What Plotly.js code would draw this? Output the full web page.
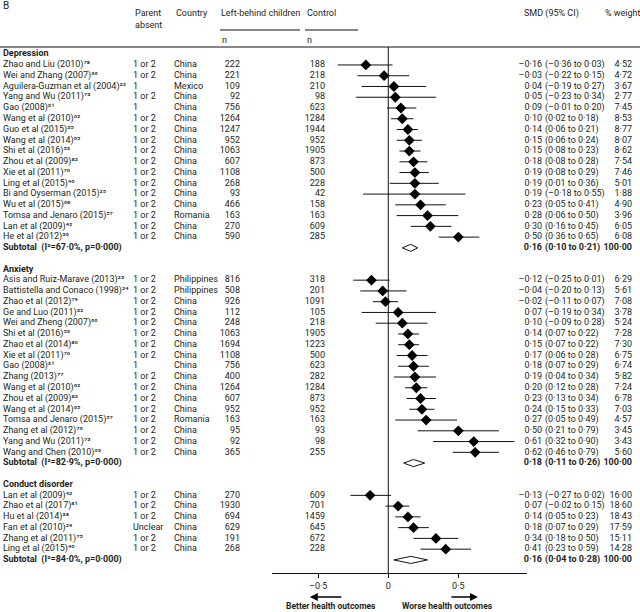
<!DOCTYPE html>
<html>
<head>
<meta charset="utf-8">
<script src="https://cdn.plot.ly/plotly-3.0.1.min.js"></script>
<style>
html,body{margin:0;padding:0;background:#fff;}
#chart{width:640px;height:612px;}
</style>
</head>
<body>
<div id="chart"></div>
<script>
// ---------------- DATA ----------------
const sections = ["Depression", "Anxiety", "Conduct disorder"];

const depStudies = ["Zhao and Liu (2010)", "Wei and Zhang (2007)", "Aguilera-Guzman et al (2004)", "Yang and Wu (2011)", "Gao (2008)", "Wang et al (2010)", "Guo et al (2015)", "Wang et al (2014)", "Shi et al (2016)", "Zhou et al (2009)", "Xie et al (2011)", "Ling et al (2015)", "Bi and Oyserman (2015)", "Wu et al (2015)", "Tomsa and Jenaro (2015)", "Lan et al (2009)", "He et al (2012)"];
const depRefs = ["78", "66", "22", "73", "31", "62", "35", "65", "53", "82", "70", "46", "25", "68", "57", "42", "36"];
const depParent = ["1 or 2", "1 or 2", "1", "1 or 2", "1", "1 or 2", "1 or 2", "1 or 2", "1 or 2", "1 or 2", "1 or 2", "1 or 2", "1 or 2", "1 or 2", "1 or 2", "1 or 2", "1 or 2"];
const depCountry = ["China", "China", "Mexico", "China", "China", "China", "China", "China", "China", "China", "China", "China", "China", "China", "Romania", "China", "China"];
const depNLB = [222, 221, 109, 92, 756, 1264, 1247, 952, 1063, 607, 1108, 268, 93, 466, 163, 270, 590];
const depNCtrl = [188, 218, 210, 98, 623, 1284, 1944, 952, 1905, 873, 500, 228, 42, 158, 163, 609, 285];
const depSMD = [-0.16, -0.03, 0.04, 0.05, 0.09, 0.10, 0.14, 0.15, 0.15, 0.18, 0.19, 0.19, 0.19, 0.23, 0.28, 0.30, 0.50];
const depLo = [-0.36, -0.22, -0.19, -0.23, -0.01, 0.02, 0.06, 0.06, 0.08, 0.08, 0.08, 0.01, -0.18, 0.05, 0.06, 0.16, 0.36];
const depHi = [0.03, 0.15, 0.27, 0.34, 0.20, 0.18, 0.21, 0.24, 0.23, 0.28, 0.29, 0.36, 0.55, 0.41, 0.50, 0.45, 0.65];
const depWeight = [4.52, 4.72, 3.67, 2.77, 7.45, 8.53, 8.77, 8.07, 8.62, 7.54, 7.46, 5.01, 1.88, 4.90, 3.96, 6.05, 6.08];

const anxStudies = ["Asis and Ruiz-Marave (2013)", "Battistella and Conaco (1998)", "Zhao et al (2012)", "Ge and Luo (2011)", "Wei and Zheng (2007)", "Shi et al (2016)", "Zhao et al (2014)", "Xie et al (2011)", "Gao (2008)", "Zhang (2013)", "Wang et al (2010)", "Zhou et al (2009)", "Wang et al (2014)", "Tomsa and Jenaro (2015)", "Zhang et al (2012)", "Yang and Wu (2011)", "Wang and Chen (2010)"];
const anxRefs = ["23", "24", "79", "32", "66", "53", "80", "70", "31", "77", "62", "82", "65", "57", "76", "73", "63"];
const anxParent = ["1 or 2", "1 or 2", "1 or 2", "1 or 2", "1 or 2", "1 or 2", "1 or 2", "1 or 2", "1", "1 or 2", "1 or 2", "1 or 2", "1 or 2", "1 or 2", "1 or 2", "1 or 2", "1 or 2"];
const anxCountry = ["Philippines", "Philippines", "China", "China", "China", "China", "China", "China", "China", "China", "China", "China", "China", "Romania", "China", "China", "China"];
const anxNLB = [816, 508, 926, 112, 248, 1063, 1694, 1108, 756, 400, 1264, 607, 952, 163, 95, 92, 365];
const anxNCtrl = [318, 201, 1091, 105, 218, 1905, 1223, 500, 623, 282, 1284, 873, 952, 163, 93, 98, 255];
const anxSMD = [-0.12, -0.04, -0.02, 0.07, 0.10, 0.14, 0.15, 0.17, 0.18, 0.19, 0.20, 0.23, 0.24, 0.27, 0.50, 0.61, 0.62];
const anxLo = [-0.25, -0.20, -0.11, -0.19, -0.09, 0.07, 0.07, 0.06, 0.07, 0.04, 0.12, 0.13, 0.15, 0.05, 0.21, 0.32, 0.46];
const anxHi = [0.01, 0.13, 0.07, 0.34, 0.28, 0.22, 0.22, 0.28, 0.29, 0.34, 0.28, 0.34, 0.33, 0.49, 0.79, 0.90, 0.79];
const anxWeight = [6.29, 5.61, 7.08, 3.78, 5.24, 7.28, 7.30, 6.75, 6.74, 5.82, 7.24, 6.78, 7.03, 4.57, 3.45, 3.43, 5.60];

const conStudies = ["Lan et al (2009)", "Zhao et al (2017)", "Hu et al (2014)", "Fan et al (2010)", "Zhang et al (2011)", "Ling et al (2015)"];
const conRefs = ["42", "81", "38", "29", "75", "46"];
const conParent = ["1 or 2", "1 or 2", "1 or 2", "Unclear", "1 or 2", "1 or 2"];
const conCountry = ["China", "China", "China", "China", "China", "China"];
const conNLB = [270, 1930, 694, 629, 191, 268];
const conNCtrl = [609, 701, 1459, 645, 672, 228];
const conSMD = [-0.13, 0.07, 0.14, 0.18, 0.34, 0.41];
const conLo = [-0.27, -0.02, 0.05, 0.07, 0.18, 0.23];
const conHi = [0.02, 0.15, 0.23, 0.29, 0.50, 0.59];
const conWeight = [16.00, 18.60, 18.43, 17.59, 15.11, 14.28];

// subtotals (pooled SMD) per section
const subSMD = [0.16, 0.18, 0.16];
const subLo = [0.10, 0.11, 0.04];
const subHi = [0.21, 0.26, 0.28];
const subI2 = [67.0, 82.9, 84.0];
const subP = ["0·000", "0·000", "0·000"];

const tickVals = [-0.5, 0, 0.5];
const tickText = ["–0·5", "0", "0·5"];

// ---------------- LAYOUT CONSTANTS ----------------
const W = 640, H = 612;
const ROW0 = 54.2, ROWH = 10.76;   // pixel y of row 0, pixel height of one row
const AXIS_PX = 573;               // pixel y of the x axis line
const TXT = "#231f20";
const FONT = "Roboto, 'Open Sans', sans-serif";
const FS = 9;

const groups = [
  {name: sections[0], s: depStudies, r: depRefs, p: depParent, c: depCountry, n1: depNLB, n2: depNCtrl, e: depSMD, lo: depLo, hi: depHi, w: depWeight},
  {name: sections[1], s: anxStudies, r: anxRefs, p: anxParent, c: anxCountry, n1: anxNLB, n2: anxNCtrl, e: anxSMD, lo: anxLo, hi: anxHi, w: anxWeight},
  {name: sections[2], s: conStudies, r: conRefs, p: conParent, c: conCountry, n1: conNLB, n2: conNCtrl, e: conSMD, lo: conLo, hi: conHi, w: conWeight}
];

const SUP = "⁰¹²³⁴⁵⁶⁷⁸⁹";
function sup(s) { return s.split("").map(ch => SUP[+ch]).join(""); }
function fmt(v) {
  return (v < 0 ? "–" : "") + Math.abs(v).toFixed(2).replace(".", "·");
}
function fmt1(v) { return v.toFixed(1).replace(".", "·"); }

// build row-wise columns
const col = {name: [], parent: [], country: [], n1: [], n2: [], est: [], ci: [], w: []};
const colY = {name: [], parent: [], country: [], n1: [], n2: [], est: [], ci: [], w: []};
const pts = {x: [], y: [], plus: [], minus: []};
const subs = [];
let row = 0;
groups.forEach((g, gi) => {
  col.name.push("<b>" + g.name + "</b>"); colY.name.push(row);
  row++;
  g.s.forEach((st, i) => {
    col.name.push(st + sup(g.r[i])); colY.name.push(row);
    col.parent.push(g.p[i]); colY.parent.push(row);
    col.country.push(g.c[i]); colY.country.push(row);
    col.n1.push(String(g.n1[i])); colY.n1.push(row);
    col.n2.push(String(g.n2[i])); colY.n2.push(row);
    col.est.push(fmt(g.e[i])); colY.est.push(row);
    col.ci.push("(" + fmt(g.lo[i]) + " to " + fmt(g.hi[i]) + ")"); colY.ci.push(row);
    col.w.push(fmt(g.w[i])); colY.w.push(row);
    pts.x.push(g.e[i]); pts.y.push(row);
    pts.plus.push(g.hi[i] - g.e[i]); pts.minus.push(g.e[i] - g.lo[i]);
    row++;
  });
  col.name.push("<b>Subtotal  (I²=" + fmt1(subI2[gi]) + "%, p=" + subP[gi] + ")</b>"); colY.name.push(row);
  col.est.push("<b>" + fmt(subSMD[gi]) + "</b>"); colY.est.push(row);
  col.ci.push("<b>(" + fmt(subLo[gi]) + " to " + fmt(subHi[gi]) + ")</b>"); colY.ci.push(row);
  col.w.push("<b>100·00</b>"); colY.w.push(row);
  subs.push({row: row, e: subSMD[gi], lo: subLo[gi], hi: subHi[gi]});
  row += 2;
});

// column pixel positions (x2 axis is pixel space)
const colX = {name: 3, parent: 133, country: 174, n1: 240, n2: 325, est: 542, ci: 545, w: 632};
const colPos = {name: "middle right", parent: "middle right", country: "middle right", n1: "middle left", n2: "middle left", est: "middle left", ci: "middle right", w: "middle left"};

const traces = [];
Object.keys(col).forEach(k => {
  traces.push({
    type: "scatter", mode: "text", xaxis: "x2", yaxis: "y",
    x: col[k].map(() => colX[k]), y: colY[k], text: col[k],
    textposition: colPos[k], cliponaxis: false, hoverinfo: "skip",
    textfont: {family: FONT, size: FS, color: TXT}
  });
});

// study points with CIs
traces.push({
  type: "scatter", mode: "markers", xaxis: "x", yaxis: "y",
  x: pts.x, y: pts.y,
  marker: {symbol: "diamond", size: 8.3, color: "#000"},
  error_x: {type: "data", symmetric: false, array: pts.plus, arrayminus: pts.minus, width: 0, thickness: 1, color: "#111"},
  cliponaxis: false
});

// pooled diamonds
const DH = 0.33;
subs.forEach(s => {
  traces.push({
    type: "scatter", mode: "lines", xaxis: "x", yaxis: "y",
    x: [s.lo, s.e, s.hi, s.e, s.lo], y: [s.row, s.row - DH, s.row, s.row + DH, s.row],
    fill: "toself", fillcolor: "#fff", line: {color: "#111", width: 1}, cliponaxis: false
  });
});

const py = px => 1 - px / H;
const yBottomRow = (AXIS_PX - ROW0) / ROWH;
const yTopRow = (0 - ROW0) / ROWH;

const hdrFont = {family: FONT, size: FS, color: TXT};
function hdr(text, xpx, ypx, extra) {
  return Object.assign({text: text, xref: "paper", yref: "paper", x: xpx / W, y: py(ypx), xanchor: "left", yanchor: "middle", showarrow: false, font: hdrFont}, extra || {});
}

const annotations = [
  hdr("B", 1, 6, {font: {family: FONT, size: 10, color: TXT}}),
  hdr("Parent", 133, 13), hdr("absent", 133, 25),
  hdr("Country", 174, 13),
  hdr("Left-behind children", 219, 13),
  hdr("Control", 305, 13),
  hdr("n", 220, 40), hdr("n", 305, 40),
  hdr("SMD (95% CI)", 522, 13),
  hdr("% weight", 603, 13),
  // direction arrows
  {xref: "x", yref: "paper", x: -0.56, y: py(597), ax: 33, ay: 0, text: "", showarrow: true, arrowhead: 2, arrowsize: 1, arrowwidth: 1.6, arrowcolor: "#000"},
  {xref: "x", yref: "paper", x: 0.64, y: py(597), ax: -28, ay: 0, text: "", showarrow: true, arrowhead: 2, arrowsize: 1, arrowwidth: 1.6, arrowcolor: "#000"},
  {xref: "x", yref: "paper", x: -0.41, y: py(606), xanchor: "center", yanchor: "middle", text: "<b>Better health outcomes</b>", showarrow: false, font: {family: FONT, size: 8.5, color: TXT}},
  {xref: "x", yref: "paper", x: 0.42, y: py(606), xanchor: "center", yanchor: "middle", text: "<b>Worse health outcomes</b>", showarrow: false, font: {family: FONT, size: 8.5, color: TXT}}
];

const shapes = [
  {type: "line", xref: "paper", yref: "paper", x0: 0, x1: 1, y0: py(47), y1: py(47), line: {color: "#111", width: 1}},
  {type: "line", xref: "paper", yref: "paper", x0: 220 / W, x1: 300 / W, y0: py(30), y1: py(30), line: {color: "#111", width: 1.2}},
  {type: "line", xref: "paper", yref: "paper", x0: 305 / W, x1: 358 / W, y0: py(30), y1: py(30), line: {color: "#111", width: 1.2}},
  {type: "line", xref: "x", yref: "paper", x0: 0, x1: 0, y0: py(47), y1: py(AXIS_PX), line: {color: "#111", width: 1}}
];

const layout = {
  width: W, height: H,
  margin: {l: 0, r: 0, t: 0, b: 0, pad: 0},
  paper_bgcolor: "#fff", plot_bgcolor: "rgba(0,0,0,0)",
  showlegend: false,
  xaxis: {
    domain: [272 / W, 527 / W], range: [-0.83, 0.99], anchor: "y",
    showline: true, linecolor: "#111", linewidth: 1.2,
    ticks: "outside", ticklen: 4, tickwidth: 1, tickcolor: "#111",
    tickvals: tickVals, ticktext: tickText,
    tickfont: {family: FONT, size: FS, color: TXT},
    showgrid: false, zeroline: false, fixedrange: true
  },
  xaxis2: {domain: [0, 1], range: [0, W], anchor: "y", visible: false, fixedrange: true},
  yaxis: {
    domain: [1 - AXIS_PX / H, 1], range: [yBottomRow, yTopRow],
    visible: false, showgrid: false, zeroline: false, fixedrange: true
  },
  annotations: annotations,
  shapes: shapes
};

Plotly.newPlot("chart", traces, layout, {displayModeBar: false, staticPlot: true});
</script>
</body>
</html>
